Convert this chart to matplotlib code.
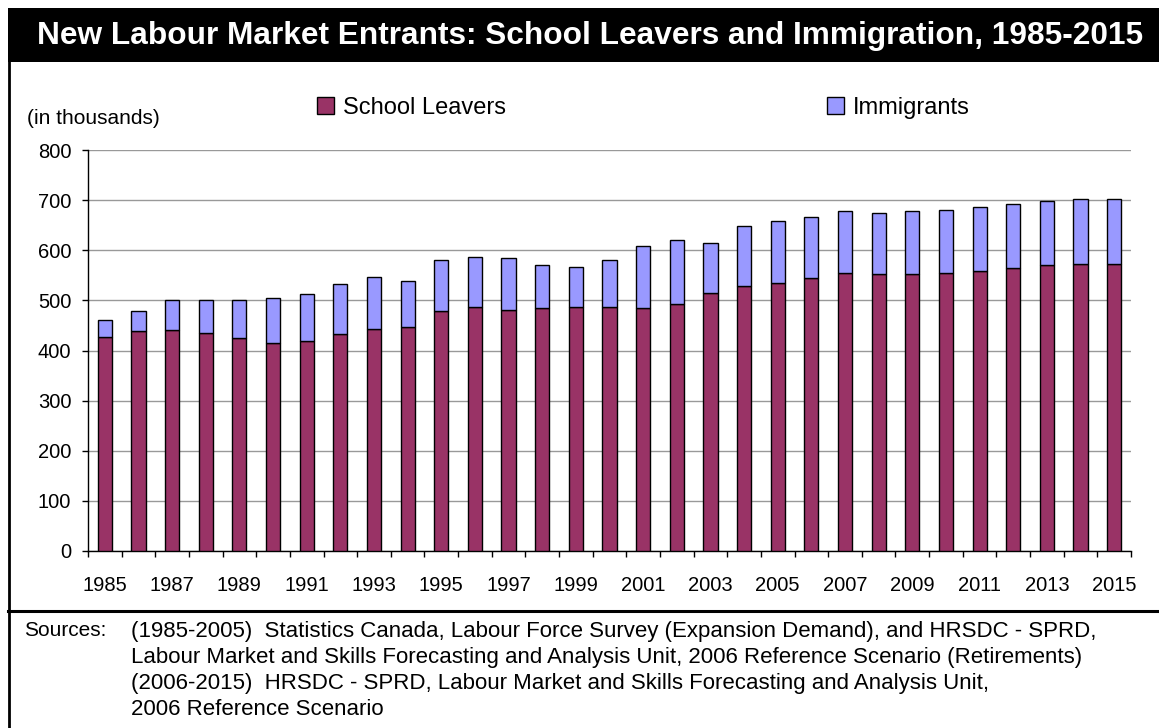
import matplotlib
matplotlib.use("Agg")
import matplotlib.pyplot as plt
from matplotlib.patches import Rectangle
from matplotlib.lines import Line2D
import numpy as np

plt.rcParams['font.family'] = ['Liberation Sans', 'DejaVu Sans']

years = list(range(1985, 2016))
school_leavers = [426, 438, 441, 435, 424, 415, 418, 432, 443, 447,
                  478, 487, 481, 485, 487, 487, 485, 492, 515, 529,
                  535, 545, 555, 553, 553, 555, 558, 564, 570, 573, 573]
totals = [461, 479, 501, 501, 501, 504, 513, 533, 547, 538,
          581, 587, 584, 570, 566, 581, 609, 621, 615, 649,
          659, 667, 678, 675, 678, 681, 687, 693, 698, 703, 703]
immigrants = [t - s for t, s in zip(totals, school_leavers)]

title = "New Labour Market Entrants: School Leavers and Immigration, 1985-2015"
unit_label = "(in thousands)"
series_names = ["School Leavers", "Immigrants"]
source_lines = [
    "(1985-2005)  Statistics Canada, Labour Force Survey (Expansion Demand), and HRSDC - SPRD,",
    "Labour Market and Skills Forecasting and Analysis Unit, 2006 Reference Scenario (Retirements)",
    "(2006-2015)  HRSDC - SPRD, Labour Market and Skills Forecasting and Analysis Unit,",
    "2006 Reference Scenario",
]

W, H = 1159, 728
fig = plt.figure(figsize=(W / 100, H / 100), dpi=100)

def fx(px):
    return px / W

def fy(py):
    return 1 - py / H

# title band
fig.patches.append(Rectangle((fx(8), fy(62)), fx(1159) - fx(8), fy(8) - fy(62),
                             transform=fig.transFigure, facecolor='black',
                             edgecolor='none', zorder=0))
fig.text(fx(590), fy(36), title, color='white', fontsize=22.8, fontweight='bold',
         ha='center', va='center')

# frame lines: left border and separator above the sources
fig.lines.append(Line2D([fx(9), fx(9)], [fy(62), fy(728)], transform=fig.transFigure,
                        color='black', lw=2))
fig.lines.append(Line2D([fx(8), fx(1159)], [fy(611), fy(611)], transform=fig.transFigure,
                        color='black', lw=2.2))

ax = fig.add_axes([fx(88), fy(551), fx(1131) - fx(88), fy(150) - fy(551)])
x = np.arange(len(years))
bw = 0.42
b1 = ax.bar(x, school_leavers, width=bw, color='#993366', edgecolor='black',
            linewidth=1.0, zorder=3, label=series_names[0])
b2 = ax.bar(x, immigrants, width=bw, bottom=school_leavers, color='#9999FF',
            edgecolor='black', linewidth=1.0, zorder=3, label=series_names[1])

ax.set_xlim(-0.5, len(years) - 0.5)
ax.set_ylim(0, 800)
ax.set_yticks(np.arange(0, 801, 100))
ax.yaxis.grid(True, color='#999999', lw=1.0, zorder=0)
ax.set_axisbelow(True)
ax.spines['top'].set_visible(False)
ax.spines['right'].set_visible(False)
ax.spines['left'].set_linewidth(1.0)
ax.spines['bottom'].set_linewidth(1.0)
ax.tick_params(axis='y', direction='out', length=4, width=1, pad=8, labelsize=14.5)

ax.set_xticks(x[::2])
ax.set_xticklabels([str(y) for y in years[::2]])
ax.set_xticks(np.arange(-0.5, len(years), 1.0), minor=True)
ax.tick_params(axis='x', which='major', length=0, pad=18, labelsize=14.5)
ax.tick_params(axis='x', which='minor', direction='out', length=4.5, width=1)

fig.text(fx(27), fy(118), unit_label, fontsize=15, ha='left', va='center')

fig.legend(handles=[b1, b2], labels=series_names, loc='center left',
           bbox_to_anchor=(fx(317), fy(108)), ncol=2, frameon=False,
           fontsize=17, handlelength=0.7, handleheight=0.7, handletextpad=0.4,
           columnspacing=13.6, borderpad=0, borderaxespad=0)

fig.text(fx(24), fy(631), "Sources:", fontsize=15, ha='left', va='center')
for i, line in enumerate(source_lines):
    fig.text(fx(131), fy(631 + i * 26.3), line, fontsize=16, ha='left', va='center')

fig.savefig("out.png", dpi=100)
